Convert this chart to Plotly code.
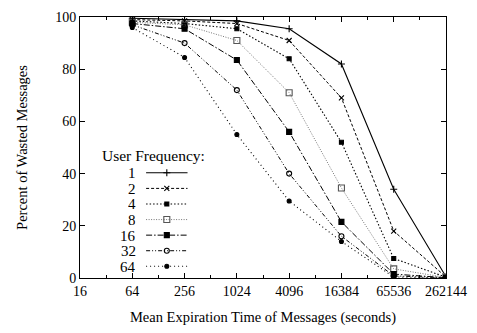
import plotly.graph_objects as go

x_vals = [64, 256, 1024, 4096, 16384, 65536, 262144]
freqs = ["1", "2", "4", "8", "16", "32", "64"]
series = {
    "1":  [99.5, 99.0, 98.5, 95.5, 82.0, 34.0, 0.5],
    "2":  [99.0, 98.5, 97.5, 91.0, 69.0, 18.0, 0.4],
    "4":  [98.5, 97.5, 95.5, 84.0, 52.0, 7.5, 0.3],
    "8":  [98.0, 97.0, 91.0, 71.0, 34.5, 3.5, 0.2],
    "16": [97.5, 95.5, 83.5, 56.0, 21.5, 1.5, 0.1],
    "32": [97.0, 90.0, 72.0, 40.0, 16.0, 0.8, 0.1],
    "64": [96.0, 84.5, 55.0, 29.5, 14.0, 0.4, 0.0],
}
x_ticks = [16, 64, 256, 1024, 4096, 16384, 65536, 262144]
x_minor = [32, 128, 512, 2048, 8192, 32768, 131072]
y_ticks = [0, 20, 40, 60, 80, 100]

styles = {
    "1":  dict(dash="solid", color="black", width=1.1, symbol="cross-thin-open", size=5),
    "2":  dict(dash="3px,2px", color="black", width=1, symbol="x-thin-open", size=5),
    "4":  dict(dash="1.5px,2px", color="black", width=1.1, symbol="square", size=4),
    "8":  dict(dash="1px,1.5px", color="#777777", width=1, symbol="square-open", size=6),
    "16": dict(dash="6px,2px,1.5px,2px", color="black", width=1, symbol="square", size=5),
    "32": dict(dash="4px,2px,1px,2px,1px,2px", color="black", width=1, symbol="circle-open", size=5),
    "64": dict(dash="1px,3px", color="black", width=1.1, symbol="circle", size=4),
}

FONT = "Liberation Serif, Times New Roman, serif"
fig = go.Figure()
for f in freqs:
    s = styles[f]
    mc = "#555555" if f == "8" else "black"
    fig.add_trace(go.Scatter(
        x=x_vals, y=series[f], mode="lines+markers", name=f, showlegend=False,
        line=dict(color=s["color"], width=s["width"], dash=s["dash"]),
        marker=dict(symbol=s["symbol"], size=s["size"], color=mc,
                    line=dict(color=mc, width=1.1)),
    ))

# custom legend (text on the left, sample on the right)
row_y = [170, 186, 202, 218, 234, 250, 266]
def px_to_x(px):
    return (px - 80) / 371.0
def py_to_y(py):
    return (278 - py) / 268.0

for f, ry in zip(freqs, row_y):
    s = styles[f]
    mc = "#555555" if f == "8" else "black"
    yy = py_to_y(ry)
    fig.add_trace(go.Scatter(
        x=[px_to_x(147), px_to_x(189)], y=[yy, yy], mode="lines", xaxis="x2", yaxis="y2",
        showlegend=False, hoverinfo="skip",
        line=dict(color=s["color"], width=s["width"], dash=s["dash"]),
    ))
    fig.add_trace(go.Scatter(
        x=[px_to_x(168)], y=[yy], mode="markers", xaxis="x2", yaxis="y2",
        showlegend=False, hoverinfo="skip",
        marker=dict(symbol=s["symbol"], size=s["size"], color=mc,
                    line=dict(color=mc, width=1.1)),
    ))
    fig.add_annotation(x=px_to_x(138), y=yy, xref="paper", yref="paper",
                       text=f, showarrow=False, xanchor="right", yanchor="middle",
                       font=dict(family=FONT, size=15, color="black"),
                       borderpad=0, height=15)

fig.add_annotation(x=px_to_x(155), y=py_to_y(152), xref="paper", yref="paper",
                   text="User Frequency:", showarrow=False, xanchor="center", yanchor="middle",
                   font=dict(family=FONT, size=15.5, color="black"), borderpad=0)

axis_common = dict(showgrid=False, zeroline=False, showline=True, linecolor="black",
                   linewidth=1, mirror="ticks", ticks="inside", ticklen=5,
                   tickcolor="black", tickfont=dict(family=FONT, size=14, color="black"))

fig.update_layout(
    width=477, height=333,
    margin=dict(l=80, r=26, t=10, b=55),
    paper_bgcolor="white", plot_bgcolor="white",
    font=dict(family=FONT, size=14, color="black"),
    xaxis=dict(type="log", range=[1.2041, 5.4185], tickvals=x_ticks,
               ticktext=[str(v) for v in x_ticks],
               minor=dict(tickvals=x_minor, ticks="inside", ticklen=3, tickcolor="black"),
               title=dict(text="Mean Expiration Time of Messages (seconds)", standoff=14,
                          font=dict(family=FONT, size=14.5)),
               **axis_common),
    yaxis=dict(range=[0, 100], tickvals=y_ticks,
               title=dict(text="Percent of Wasted Messages", standoff=24,
                          font=dict(family=FONT, size=14.5)),
               **axis_common),
    xaxis2=dict(overlaying="x", range=[0, 1], visible=False, anchor="y2"),
    yaxis2=dict(overlaying="y", range=[0, 1], visible=False, anchor="x2"),
)

fig.write_html("out.html")
